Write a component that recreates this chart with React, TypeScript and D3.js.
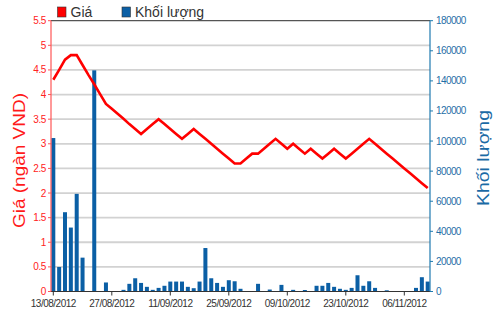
import React from "react";
import * as d3 from "d3";

const dates: string[] = [
  "13/08/2012","14/08/2012","15/08/2012","16/08/2012","17/08/2012","20/08/2012","21/08/2012","22/08/2012","23/08/2012","24/08/2012",
  "27/08/2012","28/08/2012","29/08/2012","30/08/2012","31/08/2012","04/09/2012","05/09/2012","06/09/2012","07/09/2012","10/09/2012",
  "11/09/2012","12/09/2012","13/09/2012","14/09/2012","17/09/2012","18/09/2012","19/09/2012","20/09/2012","21/09/2012","24/09/2012",
  "25/09/2012","26/09/2012","27/09/2012","28/09/2012","01/10/2012","02/10/2012","03/10/2012","04/10/2012","05/10/2012","08/10/2012",
  "09/10/2012","10/10/2012","11/10/2012","12/10/2012","15/10/2012","16/10/2012","17/10/2012","18/10/2012","19/10/2012","22/10/2012",
  "23/10/2012","24/10/2012","25/10/2012","26/10/2012","29/10/2012","30/10/2012","31/10/2012","01/11/2012","02/11/2012","05/11/2012",
  "06/11/2012","07/11/2012","08/11/2012","09/11/2012","12/11/2012",
];

const prices: number[] = [
  4.3, 4.5, 4.71, 4.8, 4.8, 4.6, 4.4, 4.21, 4.01, 3.81,
  3.71, 3.61, 3.51, 3.4, 3.3, 3.2, 3.3, 3.4, 3.5, 3.4,
  3.3, 3.2, 3.1, 3.2, 3.3, 3.2, 3.1, 3.0, 2.9, 2.8,
  2.7, 2.6, 2.6, 2.7, 2.8, 2.8, 2.9, 3.0, 3.1, 3.0,
  2.9, 3.0, 2.9, 2.8, 2.9, 2.8, 2.7, 2.8, 2.9, 2.8,
  2.7, 2.8, 2.9, 3.0, 3.1, 3.0, 2.9, 2.8, 2.7, 2.6,
  2.5, 2.4, 2.3, 2.2, 2.1,
];

const volumes: number[] = [
  102000, 16300, 52700, 42500, 64900, 22500, 0, 147000, 0, 6000,
  0, 0, 1100, 5100, 8800, 5700, 3100, 1100, 2400, 3800,
  6600, 6600, 6600, 3100, 2200, 6600, 28900, 8800, 5700, 3100,
  7500, 6800, 1800, 0, 0, 5100, 0, 1300, 0, 4400,
  0, 1100, 0, 1000, 0, 3800, 3800, 5700, 3100, 1800,
  1100, 2400, 10800, 3800, 6800, 2400, 0, 800, 0, 0,
  0, 0, 2400, 9500, 6600,
];

const priceTicks: number[] = [0, 0.5, 1, 1.5, 2, 2.5, 3, 3.5, 4, 4.5, 5, 5.5];
const volumeTicks: number[] = [0, 20000, 40000, 60000, 80000, 100000, 120000, 140000, 160000, 180000];
const dateTickLabels: string[] = ["13/08/2012", "27/08/2012", "11/09/2012", "25/09/2012", "09/10/2012", "23/10/2012", "06/11/2012"];

const legendItems = [
  { label: "Giá", color: "#ff0000" },
  { label: "Khối lượng", color: "#0b5fa5" },
];

export default function App() {
  const W = 500;
  const H = 312;
  const left = 51;
  const right = 430;
  const top = 20.7;
  const bottom = 291.5;
  const font = "'Liberation Sans', Arial, sans-serif";

  const x = d3
    .scalePoint<number>()
    .domain(d3.range(dates.length))
    .range([53.3, 53.3 + 5.85 * (dates.length - 1)]);
  const yP = d3.scaleLinear().domain([0, 5.5]).range([bottom, top]);
  const yV = d3.scaleLinear().domain([0, 180000]).range([bottom, top]);

  const line = d3
    .line<number>()
    .x((_, i) => x(i) as number)
    .y((d) => yP(d));

  const barW = 4;

  return (
    <svg
      width={W}
      height={H}
      style={{ position: "absolute", left: 0, top: 0, background: "#fff" }}
    >
      {/* gridlines */}
      {priceTicks.slice(1).map((t) => (
        <line
          key={"g" + t}
          x1={left}
          x2={right}
          y1={yP(t)}
          y2={yP(t)}
          stroke={t === 5.5 ? "#555" : "#d2d2d2"}
          strokeWidth={t === 5.5 ? 1.2 : 1.8}
        />
      ))}

      {/* bars */}
      {volumes.map((v, i) =>
        v > 0 ? (
          <rect
            key={"b" + i}
            x={(x(i) as number) - barW / 2}
            y={yV(v)}
            width={barW}
            height={bottom - yV(v)}
            fill="#0b5fa5"
          />
        ) : null
      )}

      {/* price line */}
      <path
        d={line(prices) || ""}
        fill="none"
        stroke="#ff0000"
        strokeWidth={2.6}
        strokeLinejoin="miter"
      />

      {/* bottom axis */}
      <line x1={left} x2={right} y1={bottom} y2={bottom} stroke="#333" strokeWidth={1.2} />
      {dateTickLabels.map((lab) => {
        const i = dates.indexOf(lab);
        const px = x(i) as number;
        return (
          <g key={"d" + lab}>
            <line x1={px} x2={px} y1={bottom} y2={bottom + 4} stroke="#333" strokeWidth={1} />
            <text
              x={px}
              y={307}
              textAnchor="middle"
              fontFamily={font}
              fontSize={10}
              letterSpacing={-0.5}
              fill="#333"
            >
              {lab}
            </text>
          </g>
        );
      })}

      {/* left axis */}
      <line x1={left} x2={left} y1={top} y2={bottom} stroke="#ff5555" strokeWidth={1.2} />
      {priceTicks.map((t) => (
        <g key={"lp" + t}>
          <line x1={left - 3} x2={left} y1={yP(t)} y2={yP(t)} stroke="#ff5555" strokeWidth={1} />
          <text
            x={left - 5}
            y={yP(t) + 3.5}
            textAnchor="end"
            fontFamily={font}
            fontSize={10}
            letterSpacing={-0.4}
            fill="#ff2222"
          >
            {String(t)}
          </text>
        </g>
      ))}
      <text
        transform={`translate(25,160.5) rotate(-90)`}
        textAnchor="middle"
        fontFamily={font}
        fontSize={16}
        textLength={135}
        lengthAdjust="spacingAndGlyphs"
        fill="#ff1a1a"
      >
        Giá (ngàn VND)
      </text>

      {/* right axis */}
      <line x1={right} x2={right} y1={top} y2={bottom} stroke="#1f7ab0" strokeWidth={1.2} />
      {volumeTicks.map((t) => (
        <g key={"rv" + t}>
          <line x1={right} x2={right + 3} y1={yV(t)} y2={yV(t)} stroke="#1f7ab0" strokeWidth={1} />
          <text
            x={right + 6}
            y={yV(t) + 3.5}
            textAnchor="start"
            fontFamily={font}
            fontSize={10}
            letterSpacing={-0.6}
            fill="#1f6fa8"
          >
            {String(t)}
          </text>
        </g>
      ))}
      <text
        transform={`translate(489,158) rotate(-90)`}
        textAnchor="middle"
        fontFamily={font}
        fontSize={16}
        textLength={96}
        lengthAdjust="spacingAndGlyphs"
        fill="#1a6aa5"
      >
        Khối lượng
      </text>

      {/* legend */}
      {legendItems.map((it, k) => {
        const lx = k === 0 ? 57.5 : 122;
        return (
          <g key={"lg" + k}>
            <rect x={lx} y={7} width={8.5} height={10} fill={it.color} stroke="#333" strokeWidth={0.6} />
            <text x={lx + 13} y={17} fontFamily={font} fontSize={14} fill="#333">
              {it.label}
            </text>
          </g>
        );
      })}
    </svg>
  );
}
